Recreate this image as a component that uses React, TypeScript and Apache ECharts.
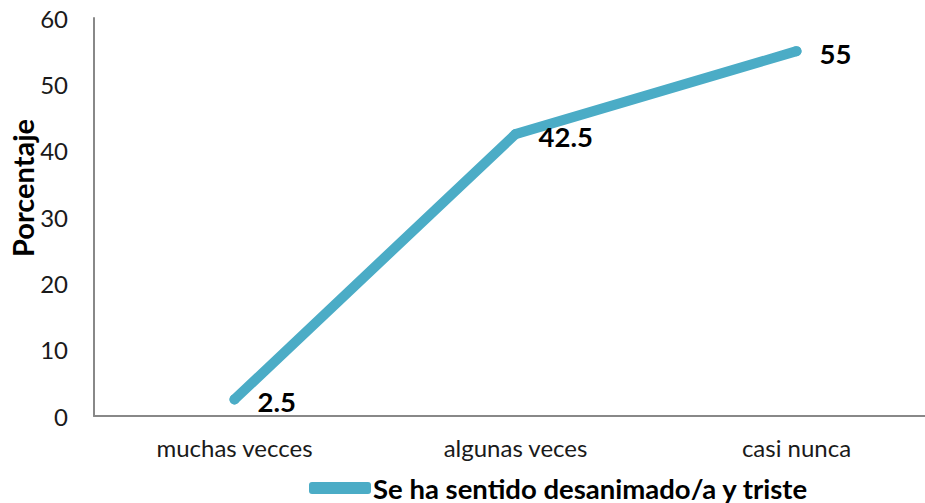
import React, { useEffect, useRef } from "react";
import * as echarts from "echarts";

const categories = ["muchas vecces", "algunas veces", "casi nunca"];
const values = [2.5, 42.5, 55];
const seriesName = "Se ha sentido desanimado/a y triste";
const yAxisName = "Porcentaje";

export default function App() {
  const ref = useRef<HTMLDivElement>(null);
  useEffect(() => {
    if (!ref.current) return;
    const chart = echarts.init(ref.current, null, { renderer: "svg" });
    const font = "Lato, 'Open Sans', sans-serif";
    chart.setOption({
      animation: false,
      textStyle: { fontFamily: font },
      grid: { left: 94, right: 0, top: 18, bottom: 87, containLabel: false },
      legend: {
        left: 304,
        top: 469,
        icon: "roundRect",
        itemWidth: 62,
        itemHeight: 12,
        textStyle: { fontFamily: font, fontSize: 27.5, fontWeight: "bold", color: "#000", padding: [0, 0, 0, -3] },
        data: [seriesName],
      },
      xAxis: {
        type: "category",
        data: categories,
        boundaryGap: true,
        axisLine: { lineStyle: { color: "#888", width: 2 } },
        axisTick: { show: false },
        axisLabel: { fontFamily: font, fontSize: 24, color: "#1a1a1a", margin: 19 },
      },
      yAxis: {
        type: "value",
        min: 0,
        max: 60,
        interval: 10,
        splitLine: { show: false },
        axisLine: { show: true, lineStyle: { color: "#888", width: 2 } },
        axisTick: { show: false },
        axisLabel: { fontFamily: font, fontSize: 24, color: "#1a1a1a", margin: 26 },
      },
      graphic: [
        {
          type: "text",
          x: 22,
          y: 188,
          rotation: Math.PI / 2,
          style: {
            text: yAxisName,
            fontFamily: font,
            fontSize: 29,
            fontWeight: "bold",
            fill: "#000",
            textAlign: "center",
            textVerticalAlign: "middle",
          },
        },
      ],
      series: [
        {
          name: seriesName,
          type: "line",
          data: values,
          symbol: "circle",
          symbolSize: 10,
          showSymbol: true,
          itemStyle: { color: "#4BACC6", borderWidth: 0 },
          lineStyle: { color: "#4BACC6", width: 10, cap: "round", join: "round" },
          label: {
            show: true,
            position: "right",
            distance: 18,
            fontFamily: font,
            fontSize: 27.5,
            fontWeight: "bold",
            color: "#000",
            offset: [0, 2],
          },
        },
      ],
    });
    return () => chart.dispose();
  }, []);
  return (
    <div style={{ position: "absolute", left: 0, top: 0, width: 925, height: 503, overflow: "hidden" }}>
      <div ref={ref} style={{ width: 937, height: 503 }} />
    </div>
  );
}
